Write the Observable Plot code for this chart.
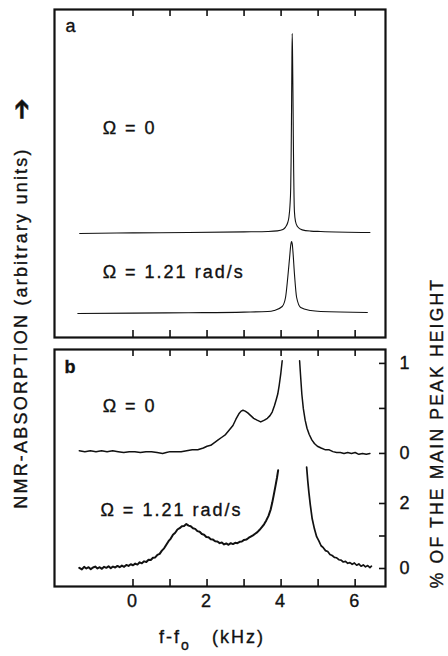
<!DOCTYPE html>
<html><head><meta charset="utf-8">
<script src="https://cdn.jsdelivr.net/npm/d3@7"></script>
<script src="https://cdn.jsdelivr.net/npm/@observablehq/plot@0.6"></script>
<style>
body{margin:0;background:#fff;}
#wrap{position:relative;width:448px;height:656px;overflow:hidden;font-family:"Liberation Sans",Arial,Helvetica,sans-serif;color:#111;background:#fff;}
#wrap svg{position:absolute;left:0;}
#wrap svg text{letter-spacing:2px;stroke:#111;stroke-width:0.35px;}
.lab{position:absolute;font-size:18px;letter-spacing:2.2px;white-space:nowrap;transform:translate(-50%,-50%) rotate(-90deg);line-height:1;-webkit-text-stroke:0.35px #111;}
.hlab{position:absolute;font-size:18px;letter-spacing:2px;white-space:nowrap;transform:translate(-50%,-50%);line-height:1;-webkit-text-stroke:0.35px #111;}
.hlab sub{font-size:14px;vertical-align:-7px;}
</style></head><body><div id="wrap"></div>
<script>
// ---------- data ----------
const xTicks = [0, 1, 2, 3, 4, 5, 6];
const xTickLabels = [0, 2, 4, 6];

// Panel a: absorption in arbitrary units (main peak of Omega=0 = 100)
const aOmega0 = [[-1.44,-1.0],[0.0,-0.7],[1.5,-0.5],[3.0,-0.2],[3.64,0],[3.9,0.3],[4.05,1.0],[4.12,2.2],[4.18,4.5],[4.21,7],[4.24,13],[4.26,22],[4.27,35],[4.28,55],[4.29,80],[4.30,99],[4.31,88],[4.32,70],[4.33,48],[4.34,30],[4.35,17],[4.36,10],[4.39,5],[4.44,2.5],[4.57,0.8],[4.8,0.2],[5.07,0],[6.4,-0.5]];
const aOmega121 = [[-1.49,-1.0],[0.0,-0.8],[1.5,-0.6],[3.0,-0.3],[3.64,0],[3.81,0.5],[4.03,2.5],[4.12,7],[4.18,17],[4.23,27],[4.26,33],[4.28,35],[4.30,34],[4.32,30],[4.36,19],[4.42,7],[4.53,2],[4.8,0.5],[5.07,0],[6.33,-0.5]];

// Panel b: % of the main peak height (main peak clipped)
const bOmega0Left = [[-1.45,0.03],[-1.3,0.02],[-1.15,0.03],[-1.0,0.02],[-0.85,0.03],[-0.7,0.02],[-0.55,0.03],[-0.4,0.02],[-0.25,0.01],[-0.1,0.02],[0.05,0.02],[0.2,0.01],[0.35,0.02],[0.5,0.02],[0.65,0.01],[0.8,0.0],[0.9,0.01],[1.0,0.02],[1.15,0.02],[1.3,0.02],[1.45,0.03],[1.6,0.04],[1.75,0.04],[1.9,0.06],[2.0,0.08],[2.1,0.09],[2.2,0.12],[2.3,0.15],[2.4,0.18],[2.5,0.21],[2.6,0.26],[2.7,0.31],[2.78,0.38],[2.86,0.44],[2.92,0.47],[2.97,0.48],[3.03,0.47],[3.1,0.45],[3.18,0.42],[3.26,0.39],[3.35,0.37],[3.45,0.35],[3.55,0.37],[3.63,0.39],[3.7,0.42],[3.76,0.46],[3.82,0.53],[3.87,0.6],[3.91,0.66],[3.95,0.76],[3.99,0.88],[4.03,1.03]];
const bOmega0Right = [[4.5,1.03],[4.53,0.84],[4.56,0.66],[4.6,0.5],[4.65,0.37],[4.7,0.28],[4.76,0.21],[4.83,0.15],[4.9,0.11],[4.98,0.08],[5.08,0.06],[5.2,0.04],[5.3,0.04],[5.4,0.02],[5.5,0.01],[5.6,0.01],[5.7,0.0],[5.8,0.01],[5.9,0.0],[6.0,0.01],[6.1,-0.01],[6.2,0.0],[6.3,-0.01],[6.4,0.0]];
const bOmega121Left = [[-1.45,0.02],[-1.38,-0.03],[-1.32,0.05],[-1.26,0.0],[-1.2,0.04],[-1.14,-0.02],[-1.08,0.03],[-1.02,0.06],[-0.96,0.0],[-0.9,0.04],[-0.84,-0.01],[-0.78,0.05],[-0.72,0.02],[-0.66,0.07],[-0.6,0.01],[-0.54,0.06],[-0.48,0.03],[-0.42,0.08],[-0.36,0.04],[-0.3,0.09],[-0.24,0.05],[-0.18,0.11],[-0.12,0.08],[-0.06,0.13],[0.0,0.1],[0.06,0.15],[0.12,0.12],[0.18,0.19],[0.24,0.16],[0.3,0.22],[0.36,0.2],[0.42,0.27],[0.48,0.26],[0.54,0.33],[0.6,0.34],[0.66,0.42],[0.72,0.45],[0.78,0.55],[0.84,0.62],[0.9,0.73],[0.96,0.84],[1.02,0.92],[1.08,1.04],[1.14,1.1],[1.2,1.2],[1.26,1.24],[1.32,1.3],[1.38,1.31],[1.44,1.37],[1.5,1.32],[1.56,1.3],[1.62,1.24],[1.68,1.22],[1.74,1.15],[1.8,1.13],[1.86,1.06],[1.92,1.04],[1.98,0.97],[2.04,0.96],[2.1,0.9],[2.16,0.89],[2.22,0.84],[2.28,0.83],[2.34,0.78],[2.4,0.8],[2.46,0.74],[2.52,0.77],[2.58,0.73],[2.64,0.78],[2.7,0.75],[2.76,0.79],[2.82,0.78],[2.88,0.82],[2.94,0.83],[3.0,0.88],[3.06,0.89],[3.12,0.94],[3.18,0.98],[3.24,1.02],[3.3,1.07],[3.36,1.12],[3.42,1.19],[3.48,1.27],[3.54,1.36],[3.6,1.48],[3.66,1.62],[3.72,1.82],[3.76,2.02],[3.8,2.25],[3.85,2.55],[3.89,2.8],[3.92,3.02]];
const bOmega121Right = [[4.69,3.12],[4.72,2.7],[4.75,2.35],[4.79,1.95],[4.84,1.53],[4.9,1.22],[4.96,0.98],[5.02,0.85],[5.08,0.7],[5.14,0.64],[5.2,0.55],[5.26,0.52],[5.32,0.43],[5.38,0.4],[5.44,0.34],[5.5,0.33],[5.56,0.27],[5.62,0.26],[5.68,0.2],[5.74,0.22],[5.8,0.16],[5.86,0.18],[5.92,0.13],[5.98,0.17],[6.04,0.1],[6.1,0.14],[6.16,0.07],[6.22,0.11],[6.28,0.05],[6.34,0.09],[6.4,0.03],[6.44,0.07]];

// right-hand axis of panel b (% of main peak height)
const upperPctTicks = [0, 0.5, 1];
const lowerPctTicks = [0, 1, 2];
const upperPctLabels = [[0, "0"], [1, "1"]];
const lowerPctLabels = [[0, "0"], [2, "2"]];

// annotations
const aLabels = [["Ω = 0", -0.82, 104.5], ["Ω = 1.21 rad/s", -0.82, 32.5]];
const bLabels = [["Ω = 0", -0.82, 4.98], ["Ω = 1.21 rad/s", -0.88, 1.78]];

// ---------- layout / style ----------
const fontFamily = '"Liberation Sans", Arial, Helvetica, sans-serif';
const ink = "#111";
const W = 448, mL = 54, mR = 63;
const xDomain = [-2.12, 6.82];
// panel a vertical stacking (arbitrary units)
const aOff0 = 53, aOff121 = 13;
// panel b: lower trace in %, upper trace scaled and offset
const bUpOff = 3.54, bUpScale = 2.77;
const up = p => bUpOff + bUpScale * p;

const wrap = document.getElementById("wrap");

const aH = 345, aTop = 9, aBot = 8, aInner = aH - aTop - aBot;
const plotA = Plot.plot({
  width: W, height: aH, marginLeft: mL, marginRight: mR, marginTop: aTop, marginBottom: aBot,
  x: {domain: xDomain, axis: null},
  y: {domain: [0, 164], axis: null},
  style: {fontFamily, fontSize: "18px", color: ink, background: "white"},
  marks: [
    Plot.tickX(xTicks, {x: d => d, insetBottom: aInner - 7, stroke: ink, strokeWidth: 1.6}),
    Plot.tickX(xTicks, {x: d => d, insetTop: aInner - 7, stroke: ink, strokeWidth: 1.6}),
    Plot.line(aOmega0, {x: d => d[0], y: d => aOff0 + d[1], stroke: ink, strokeWidth: 1.1, curve: "monotone-x"}),
    Plot.line(aOmega121, {x: d => d[0], y: d => aOff121 + d[1], stroke: ink, strokeWidth: 1.1, curve: "monotone-x"}),
    Plot.text(aLabels, {x: d => d[1], y: d => d[2], text: d => d[0], textAnchor: "start", lineAnchor: "middle", fontSize: 18, fill: ink}),
    Plot.text(["a"], {frameAnchor: "top-left", dx: 11, dy: 10, text: d => d, textAnchor: "start", lineAnchor: "top", fontSize: 18, fill: ink}),
    Plot.frame({stroke: ink, strokeWidth: 2.2})
  ]
});
plotA.style.top = "0px";
wrap.appendChild(plotA);

const bH = 316, bTop = 9, bBot = 70, bInner = bH - bTop - bBot;
const innerW = W - mL - mR;
const segs = (arr, f) => arr.map(d => ({x: d[0], y: f(d[1])}));
const plotB = Plot.plot({
  width: W, height: bH, marginLeft: mL, marginRight: mR, marginTop: bTop, marginBottom: bBot,
  x: {domain: xDomain, axis: null},
  y: {domain: [-0.554, 6.738], axis: null},
  style: {fontFamily, fontSize: "18px", color: ink, background: "white"},
  marks: [
    Plot.tickX(xTicks, {x: d => d, insetBottom: bInner - 7, stroke: ink, strokeWidth: 1.6}),
    Plot.tickX(xTicks, {x: d => d, insetTop: bInner - 7, stroke: ink, strokeWidth: 1.6}),
    Plot.tickY([...lowerPctTicks, ...upperPctTicks.map(up)], {y: d => d, insetLeft: innerW - 6, stroke: ink, strokeWidth: 1.6}),
    Plot.axisX({anchor: "bottom", ticks: xTickLabels, tickSize: 0, tickPadding: 8, tickFormat: d => String(d), fontSize: 18, fill: ink, label: null}),
    Plot.text([...lowerPctLabels, ...upperPctLabels.map(d => [up(d[0]), d[1]])], {y: d => d[0], text: d => d[1], frameAnchor: "right", dx: 14, textAnchor: "start", lineAnchor: "middle", fontSize: 18, fill: ink}),
    Plot.line(segs(bOmega0Left, up), {x: "x", y: "y", stroke: ink, strokeWidth: 1.5, strokeLinejoin: "round"}),
    Plot.line(segs(bOmega0Right, up), {x: "x", y: "y", stroke: ink, strokeWidth: 1.5, strokeLinejoin: "round"}),
    Plot.line(segs(bOmega121Left, p => p), {x: "x", y: "y", stroke: ink, strokeWidth: 2, strokeLinejoin: "round"}),
    Plot.line(segs(bOmega121Right, p => p), {x: "x", y: "y", stroke: ink, strokeWidth: 1.7, strokeLinejoin: "round"}),
    Plot.text(bLabels, {x: d => d[1], y: d => d[2], text: d => d[0], textAnchor: "start", lineAnchor: "middle", fontSize: 18, fill: ink}),
    Plot.text(["b"], {frameAnchor: "top-left", dx: 10, dy: 11, text: d => d, textAnchor: "start", lineAnchor: "top", fontSize: 18, fontWeight: "bold", fill: ink}),
    Plot.frame({stroke: ink, strokeWidth: 2.2})
  ]
});
plotB.style.top = "340px";
wrap.appendChild(plotB);

function addLabel(html, cls, cx, cy, extra) {
  const d = document.createElement("div");
  d.className = cls;
  d.innerHTML = html;
  d.style.left = cx + "px";
  d.style.top = cy + "px";
  if (extra) Object.assign(d.style, extra);
  wrap.appendChild(d);
}
addLabel("NMR-ABSORPTION (arbitrary units)", "lab", 21, 328);
addLabel("➔", "lab", 21, 109, {fontSize: "26px", letterSpacing: "0px"});
addLabel("% OF THE MAIN PEAK HEIGHT", "lab", 438, 433, {fontSize: "17.5px"});
addLabel("f-f<sub>o</sub>&nbsp;&nbsp;&nbsp;(kHz)", "hlab", 212, 640);
</script></body></html>
